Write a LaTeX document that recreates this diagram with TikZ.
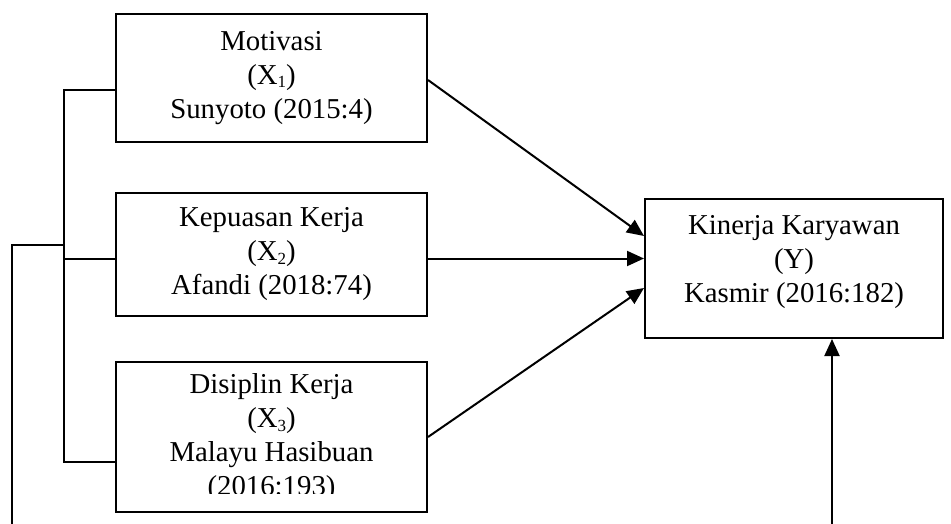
\documentclass[tikz,border=0pt]{standalone}
\usepackage{fontspec}
\setmainfont{Liberation Serif}
\usetikzlibrary{arrows.meta}
\newcommand\sbx[1]{\raisebox{-3.5pt}{\fontsize{17}{17}\selectfont #1}}
\begin{document}
\begin{tikzpicture}[x=1pt,y=-1pt, line width=2pt,
  box/.style={draw, line width=2pt, inner sep=0pt, align=center},
  txt/.style={align=center, inner sep=0pt, font=\fontsize{28.8}{34}\selectfont},
  arr/.style={-{Triangle[length=17pt,width=15pt]}}]
\useasboundingbox (0,0) rectangle (951,524);
\node[box, txt, minimum width=311pt, minimum height=128pt] (m) at (271.5,78)
  {Motivasi\\(X\sbx{1})\\Sunyoto (2015:4)};
\node[box, txt, minimum width=311pt, minimum height=123pt] (k) at (271.5,254.5)
  {Kepuasan Kerja\\(X\sbx{2})\\Afandi (2018:74)};
\node[box, minimum width=311pt, minimum height=150pt] (d) at (271.5,437) {};
\begin{scope}
  \clip (116,362) rectangle (427,493);
  \node[txt] (dt) at (271.5,438) {Disiplin Kerja\\(X\sbx{3})\\Malayu Hasibuan\\(2016:193)};
\end{scope}
\node[box, minimum width=298pt, minimum height=139pt] (y) at (794,268.5) {};
\node[txt] (yt) at (794,262) {Kinerja Karyawan\\(Y)\\Kasmir (2016:182)};
% bracket
\coordinate (b1) at (64,90);
\coordinate (b3) at (64,462);
\coordinate (b2) at (64,258.5);
\coordinate (bl) at (64,245);
\draw (m.west |- b1) -- (b1) -- (b3) -- (d.west |- b3);
\draw (b2) -- (k.west |- b2);
\coordinate (l0) at (12,524);
\draw (l0) -- (l0 |- bl) -- (bl);
% arrows
\draw[arr] ([yshift=-2pt]m.east) -- ([yshift=32.5pt]y.west);
\draw[arr] ([yshift=-4pt]k.east) -- ([yshift=10pt]y.west);
\draw[arr] (d.east) -- ([yshift=-19.5pt]y.west);
\coordinate (r0) at (832,524);
\draw[arr] (r0) -- (r0 |- y.south);
\end{tikzpicture}
\end{document}
